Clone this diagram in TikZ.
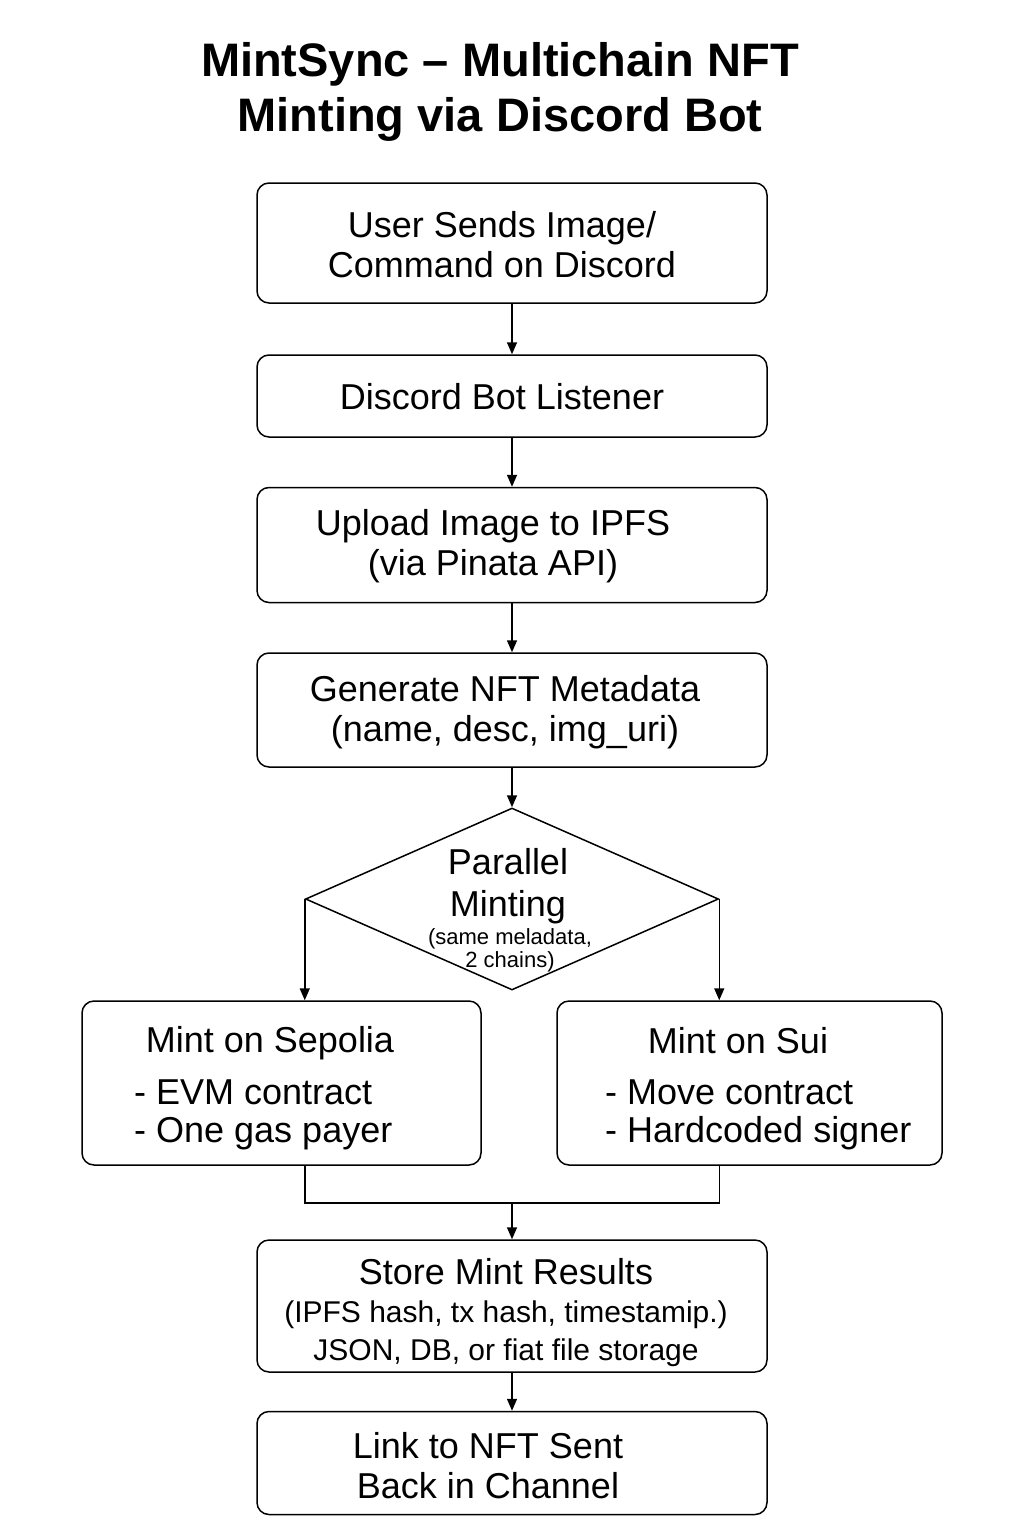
\documentclass[tikz,border=0pt]{standalone}
\usepackage{fontspec}
\setmainfont{Liberation Sans}
\usetikzlibrary{arrows.meta, shapes.geometric, positioning}
\tikzset{
    boxnode/.style = {draw, rectangle, rounded corners=12pt, line width=1.5pt, inner sep=0pt,
      align=center, font=\fontsize{36}{40}\selectfont},
    textnode/.style = {draw=none, fill=none, rectangle, inner sep=0pt, align=center,
      font=\fontsize{36}{40}\selectfont},
    smalltextnode/.style = {draw=none, fill=none, rectangle, inner sep=0pt, align=center,
      font=\fontsize{22}{23}\selectfont},
    decisionnode/.style = {draw, diamond, line width=1.5pt, inner sep=0pt,
      minimum width=413pt, minimum height=182pt},
    connect/.style = {black, line width=1.5pt, -{Triangle[length=12pt, width=10pt]}},
    joinline/.style = {black, line width=1.5pt}
}

\begin{document}
\begin{tikzpicture}[x=1pt, y=-1pt]
    \useasboundingbox (0,0) rectangle (1024,1536);

    \node [name=title, textnode, font=\fontsize{47}{55}\selectfont\bfseries] at (500,92)
        {MintSync -- Multichain NFT\\Minting via Discord Bot};

    % main column
    \node [name=user, boxnode, minimum width=510pt, minimum height=120pt] at (512,243) {};
    \node [name=usertext, textnode] at (502,245) {User Sends Image/\\Command on Discord};
    \node [name=listener, boxnode, minimum width=510pt, minimum height=82pt] at (512,396) {};
    \node [name=listenertext, textnode] at (502,397) {Discord Bot Listener};
    \node [name=upload, boxnode, minimum width=510pt, minimum height=115pt] at (512,545) {};
    \node [name=uploadtext, textnode] at (493,546) {Upload Image to IPFS\\(via Pinata API)};
    \node [name=meta, boxnode, minimum width=510pt, minimum height=114pt] at (512,710) {};
    \node [name=metatext, textnode] at (505,712) {Generate NFT Metadata\\(name, desc, img\_uri)};

    \node [name=parallel, decisionnode] at (512,899) {};
    \node [name=paralleltext, textnode, font=\fontsize{36}{42}\selectfont] at (508,886)
        {Parallel\\Minting};
    \node [name=parallelnote, smalltextnode] at (510,950) {(same meladata,\\2 chains)};

    % the two chains
    \node [name=sepolia, boxnode, minimum width=399pt, minimum height=164pt] at (281.5,1083) {};
    \node [name=sepoliatitle, textnode] at (270,1043) {Mint on Sepolia};
    \node [name=sepoliaitems, textnode, align=left, anchor=west,
        font=\fontsize{36}{38}\selectfont] at (134,1115) {- EVM contract\\- One gas payer};

    \node [name=sui, boxnode, minimum width=385pt, minimum height=164pt] at (749.5,1083) {};
    \node [name=suititle, textnode] at (738,1041) {Mint on Sui};
    \node [name=suiitems, textnode, align=left, anchor=west,
        font=\fontsize{36}{38}\selectfont] at (605,1115) {- Move contract\\- Hardcoded signer};

    \node [name=store, boxnode, minimum width=510pt, minimum height=132pt] at (512,1306) {};
    \node [name=storetext, textnode] at (506,1313)
        {Store Mint Results\\[-2pt]
         {\fontsize{30}{36}\selectfont (IPFS hash, tx hash, timestamip.)}\\[-2pt]
         {\fontsize{30}{36}\selectfont JSON, DB, or fiat file storage}};
    \node [name=link, boxnode, minimum width=510pt, minimum height=103pt] at (512,1463) {};
    \node [name=linktext, textnode] at (488,1466) {Link to NFT Sent\\Back in Channel};

    \coordinate (join) at (512,1203);

    \draw [connect] (user) -- (listener);
    \draw [connect] (listener) -- (upload);
    \draw [connect] (upload) -- (meta);
    \draw [connect] (meta) -- (parallel);
    \draw [connect] (parallel.west) -- (parallel.west |- sepolia.north);
    \draw [connect] (parallel.east) -- (parallel.east |- sui.north);
    \draw [joinline] (parallel.west |- sepolia.south) |- (join) -| (parallel.east |- sui.south);
    \draw [connect] (join) -- (store);
    \draw [connect] (store) -- (link);
\end{tikzpicture}
\end{document}
